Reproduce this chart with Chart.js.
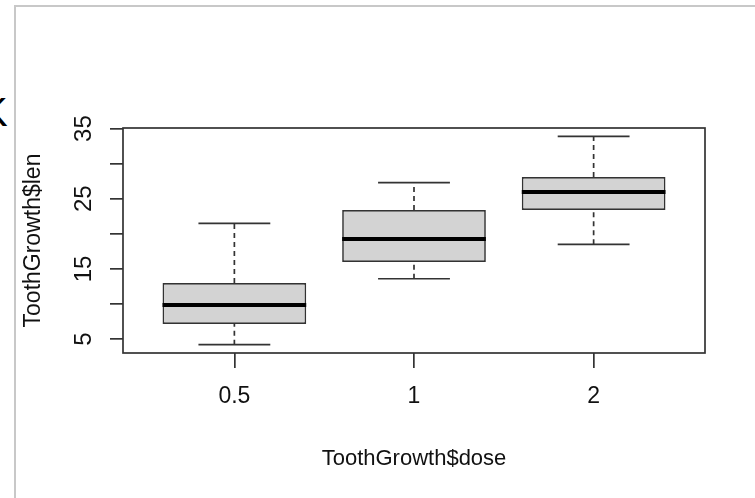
<!DOCTYPE html>
<html>
<head>
<meta charset="utf-8">
<script src="https://cdn.jsdelivr.net/npm/chart.js@4.4.1/dist/chart.umd.min.js"></script>
<style>
  html, body { margin: 0; padding: 0; background: #fff; overflow: hidden; }
  #wrap { position: relative; width: 755px; height: 498px; overflow: hidden; }
  #frame { position: absolute; left: 14px; top: 5px; right: -10px; bottom: -10px;
           border-left: 2px solid #c8c8c8; border-top: 2px solid #c8c8c8; }
  #k { position: absolute; left: -19px; top: 92px; font: 40px "Liberation Sans", Arial, sans-serif;
       line-height: 1; color: #000; }
  canvas { position: absolute; left: 0; top: 0; }
</style>
</head>
<body>
<div id="wrap">
  <div id="frame"></div>
  <div id="k">K</div>
  <canvas id="boxChart" width="755" height="498"></canvas>
</div>
<script>
// ToothGrowth$len by dose, five numbers per box
const doses = ['0.5', '1', '2'];
const lowWhisker = [4.2, 13.6, 18.5];
const lowerHinge = [7.15, 16.0, 23.4];
const medians = [9.85, 19.25, 25.95];
const upperHinge = [13.0, 23.4, 28.1];
const highWhisker = [21.5, 27.3, 33.9];
const yTicks = [5, 10, 15, 20, 25, 30, 35];
const yTickLabels = ['5', '', '15', '', '25', '', '35'];

const boxWex = 0.8;      // box width, x units
const stapleWex = 0.4;   // whisker cap width
const ink = '#333';
const font = '"Liberation Sans", Arial, sans-serif';

function segment(points, extra, order) {
    return Object.assign({
        type: 'line',
        data: points,
        borderColor: ink,
        borderWidth: 1.7,
        pointRadius: 0,
        fill: false,
        tension: 0,
        order: order
    }, extra);
}

const datasets = [{
    type: 'bar',
    data: doses.map((d, i) => ({ x: i + 1, y: [lowerHinge[i], upperHinge[i]] })),
    backgroundColor: '#d3d3d3',
    borderColor: ink,
    borderWidth: 1.7,
    borderSkipped: false,
    barPercentage: boxWex,
    categoryPercentage: 1,
    order: 2
}];

doses.forEach((d, i) => {
    const x = i + 1;
    // whiskers
    datasets.push(segment([{ x: x, y: upperHinge[i] }, { x: x, y: highWhisker[i] }], { borderDash: [5, 4] }, 3));
    datasets.push(segment([{ x: x, y: lowWhisker[i] }, { x: x, y: lowerHinge[i] }], { borderDash: [5, 4] }, 3));
    // staples
    datasets.push(segment([{ x: x - stapleWex / 2, y: highWhisker[i] }, { x: x + stapleWex / 2, y: highWhisker[i] }], {}, 3));
    datasets.push(segment([{ x: x - stapleWex / 2, y: lowWhisker[i] }, { x: x + stapleWex / 2, y: lowWhisker[i] }], {}, 3));
    // median
    datasets.push(segment([{ x: x - boxWex / 2, y: medians[i] }, { x: x + boxWex / 2, y: medians[i] }],
        { borderColor: '#000', borderWidth: 4 }, 1));
});

const plotFrame = {
    id: 'plotFrame',
    afterDraw(chart) {
        const { ctx, chartArea: a } = chart;
        ctx.save();
        ctx.strokeStyle = ink;
        ctx.lineWidth = 1.7;
        ctx.strokeRect(a.left, a.top, a.right - a.left, a.bottom - a.top);
        ctx.restore();
    }
};

new Chart(document.getElementById('boxChart'), {
    type: 'bar',
    data: { datasets: datasets },
    plugins: [plotFrame],
    options: {
        responsive: false,
        devicePixelRatio: 1,
        animation: false,
        events: [],
        layout: { padding: { top: 128, right: 50, left: 0, bottom: 0 } },
        plugins: { legend: { display: false }, tooltip: { enabled: false } },
        scales: {
            x: {
                type: 'linear',
                min: 0.38,
                max: 3.62,
                offset: false,
                afterBuildTicks: s => { s.ticks = doses.map((d, i) => ({ value: i + 1 })); },
                afterFit: s => { s.height = 145; },
                border: { display: false },
                grid: { display: true, offset: false, drawOnChartArea: false, drawTicks: true,
                        tickLength: 15, color: ink, lineWidth: 1.7 },
                ticks: {
                    autoSkip: false,
                    maxRotation: 0,
                    padding: 15,
                    color: '#111',
                    font: { family: font, size: 23 },
                    callback: v => doses[v - 1]
                },
                title: {
                    display: true,
                    text: 'ToothGrowth$dose',
                    color: '#111',
                    font: { family: font, size: 22 },
                    padding: { top: 0, bottom: 26 }
                }
            },
            y: {
                type: 'linear',
                min: 3.012,
                max: 35.088,
                afterBuildTicks: s => { s.ticks = yTicks.map(v => ({ value: v })); },
                afterFit: s => { s.width = 123; },
                border: { display: false },
                grid: { display: true, drawOnChartArea: false, drawTicks: true,
                        tickLength: 13, color: ink, lineWidth: 1.7 },
                ticks: {
                    autoSkip: false,
                    minRotation: 90,
                    maxRotation: 90,
                    crossAlign: 'center',
                    padding: 12,
                    color: '#111',
                    font: { family: font, size: 24 },
                    callback: v => yTickLabels[yTicks.indexOf(v)]
                },
                title: {
                    display: true,
                    text: 'ToothGrowth$len',
                    color: '#111',
                    font: { family: font, size: 23 },
                    padding: { top: 20, bottom: 0 }
                }
            }
        }
    }
});
</script>
</body>
</html>
